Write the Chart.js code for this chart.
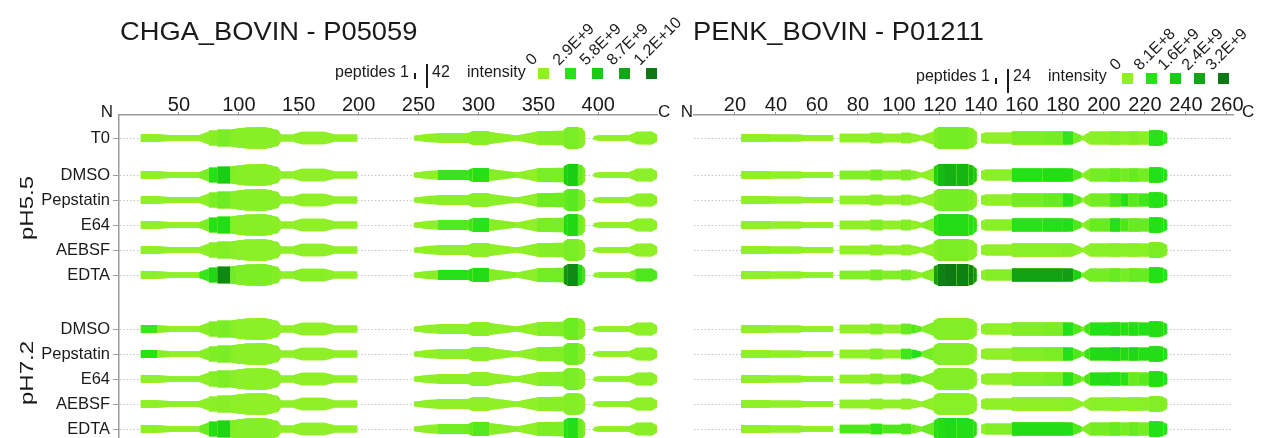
<!DOCTYPE html>
<html>
<head>
<meta charset="utf-8">
<title>CHGA / PENK peptide coverage</title>
<script src="https://cdn.jsdelivr.net/npm/chart.js@4.4.1/dist/chart.umd.min.js"></script>
<style>
  html, body { margin: 0; padding: 0; background: #fff; }
  body { width: 1266px; height: 438px; position: relative; overflow: hidden;
         font-family: "Liberation Sans", Arial, sans-serif; color: #1a1a1a; }
  canvas { position: absolute; top: 0; }
  #chga { left: 0; }
  #penk { left: 675px; }
  .title { position: absolute; top: 17.5px; font-size: 26px; line-height: 26px; white-space: nowrap; z-index: 2;
           transform-origin: 0 50%; transform: scaleX(1.05); }
  .legend-text { position: absolute; font-size: 16px; line-height: 16px; white-space: nowrap; z-index: 2; }
  .pbar { position: absolute; width: 2px; background: #1a1a1a; z-index: 2; }
  .swatch { position: absolute; width: 11px; height: 11px; z-index: 2; }
  .swatch-label { position: absolute; font-size: 16px; line-height: 16px; white-space: nowrap; z-index: 2;
                  transform-origin: 0 100%; transform: rotate(-45deg); }
  .ph { position: absolute; font-size: 24px; line-height: 24px; white-space: nowrap; z-index: 2;
        transform: translate(-50%, -50%) rotate(-90deg) scaleY(0.8); }
</style>
</head>
<body>
<canvas id="chga" width="675" height="438"></canvas>
<canvas id="penk" width="591" height="438"></canvas>
<div class="title" style="left:120px">CHGA_BOVIN - P05059</div>
<div class="title" style="left:693px">PENK_BOVIN - P01211</div>
<div class="ph" style="left:27px; top:208px">pH5.5</div>
<div class="ph" style="left:27px; top:373px">pH7.2</div>
<script>
// ---------------- rows (shared by both proteins) ----------------
const rowLabels = ['T0', 'DMSO', 'Pepstatin', 'E64', 'AEBSF', 'EDTA',
                   'DMSO', 'Pepstatin', 'E64', 'AEBSF', 'EDTA'];
const rowPositions = [0, 1.48, 2.48, 3.48, 4.48, 5.48, 7.64, 8.64, 9.64, 10.64, 11.64];

// ---------------- CHGA_BOVIN - P05059 ----------------
const chgaLength = 449;
const chgaTicks = [50, 100, 150, 200, 250, 300, 350, 400];
const chgaMaxPeptides = 42;
const chgaMaxIntensity = 11.6;                 // x 1E+9
const chgaLegendLabels = ['0', '2.9E+9', '5.8E+9', '8.7E+9', '1.2E+10'];
// peptide-coverage blocks: residue range and peptide count at block start / end
const chgaStart  = [18, 32, 42, 67, 75, 82, 93, 98, 105, 122, 128, 133, 135, 146, 152, 172, 179,
                    246, 256, 266, 292, 295, 309, 332, 349, 371, 374, 383, 387,
                    396, 400, 426, 431, 445];
const chgaEnd    = [32, 42, 67, 75, 82, 93, 98, 105, 122, 128, 133, 135, 146, 152, 172, 179, 199,
                    256, 266, 292, 295, 309, 332, 349, 371, 374, 383, 387, 389,
                    400, 426, 431, 445, 449];
const chgaPepIn  = [13, 12, 7, 8, 27, 31, 31, 36, 40, 41, 34, 27, 11, 13, 22, 21, 11,
                    5, 13, 17, 19, 25, 21, 6, 24, 32, 42, 41, 34,
                    4, 7, 8, 22, 22];
const chgaPepOut = [13, 8, 7, 23, 27, 31, 35, 39, 42, 36, 29, 13, 11, 21, 22, 13, 11,
                    12, 15, 17, 24, 25, 6, 23, 26, 40, 42, 36, 21,
                    6, 7, 19, 23, 11];
// summed intensity per block (x 1E+9), one array per condition
const chgaT0      = [0, 0, 0, 0, 0.2, 0.6, 0.3, 0.2, 0.2, 0.2, 0.2, 0, 0, 0, 0, 0, 0,
                     0, 0, 0.1, 0.2, 0.2, 0.1, 0, 0.3, 0.6, 0.6, 0.3, 0.2, 0, 0, 0, 0.1, 0.1];
const chgaDMSO55  = [0, 0, 0, 0.6, 3.2, 5.6, 0.4, 0.3, 0.2, 0.2, 0.2, 0, 0, 0, 0, 0, 0,
                     0, 0, 2.4, 2.8, 3.2, 0.3, 0, 0.6, 5.2, 5.6, 1.2, 0.6, 0, 0, 0, 0.1, 0.1];
const chgaPep55   = [0, 0, 0, 0, 0.5, 0.9, 0.3, 0.2, 0.2, 0.2, 0.2, 0, 0, 0, 0, 0, 0,
                     0, 0, 0.1, 0.2, 0.2, 0.1, 0, 0.9, 1.3, 1.5, 0.6, 0.4, 0, 0, 0, 0.1, 0.1];
const chgaE6455   = [0, 0, 0, 0.5, 3.0, 3.6, 0.3, 0.2, 0.2, 0.2, 0.2, 0, 0, 0, 0, 0, 0,
                     0, 0, 1.6, 2.2, 2.8, 0.2, 0, 0.6, 3.8, 4.2, 0.8, 0.4, 0, 0, 0, 0.1, 0.1];
const chgaAEBSF55 = [0, 0, 0, 0, 0.2, 0.4, 0.2, 0.1, 0.1, 0.1, 0.1, 0, 0, 0, 0, 0, 0,
                     0, 0, 0, 0.1, 0.1, 0, 0, 0.3, 0.6, 0.6, 0.3, 0.2, 0, 0, 0, 0, 0];
const chgaEDTA55  = [0.1, 0, 0, 2.4, 4.4, 10.5, 0.8, 0.5, 0.5, 0.5, 0.4, 0.2, 0, 0.2, 0.2, 0.1, 0,
                     0, 0.2, 3.0, 3.4, 3.8, 0.4, 0.1, 0.8, 9.8, 10.6, 4.0, 2.4, 0, 0.2, 0.6, 1.8, 1.8];
const chgaDMSO72  = [2.2, 0.2, 0, 0.2, 0.5, 0.6, 0.2, 0.1, 0.1, 0.1, 0.1, 0, 0, 0, 0, 0, 0,
                     0, 0, 0.1, 0.2, 0.2, 0.1, 0, 0.4, 0.9, 1.0, 0.4, 0.3, 0, 0, 0, 0.1, 0.1];
const chgaPep72   = [3.0, 0.2, 0, 0.2, 0.5, 0.6, 0.2, 0.1, 0.1, 0.1, 0.1, 0, 0, 0, 0, 0, 0,
                     0, 0, 0.1, 0.2, 0.2, 0.1, 0, 0.4, 0.9, 1.0, 0.4, 0.3, 0, 0, 0, 0.1, 0.1];
const chgaE6472   = [0, 0, 0, 0, 0.3, 0.5, 0.2, 0.1, 0.1, 0.1, 0.1, 0, 0, 0, 0, 0, 0,
                     0, 0, 0.1, 0.1, 0.1, 0, 0, 0.3, 0.6, 0.6, 0.3, 0.2, 0, 0, 0, 0.1, 0.1];
const chgaAEBSF72 = [0, 0, 0, 0, 0.1, 0.2, 0.1, 0, 0, 0, 0, 0, 0, 0, 0, 0, 0,
                     0, 0, 0, 0, 0, 0, 0, 0.2, 0.3, 0.3, 0.2, 0.1, 0, 0, 0, 0, 0];
const chgaEDTA72  = [0.1, 0, 0, 1.0, 3.4, 4.8, 0.4, 0.3, 0.3, 0.3, 0.2, 0, 0, 0, 0, 0, 0,
                     0, 0.1, 0.8, 1.2, 1.6, 0.2, 0, 0.5, 3.0, 3.6, 1.0, 0.6, 0, 0, 0, 0.2, 0.2];

// ---------------- PENK_BOVIN - P01211 ----------------
const penkLength = 263;
const penkTicks = [20, 40, 60, 80, 100, 120, 140, 160, 180, 200, 220, 240, 260];
const penkMaxPeptides = 24;
const penkMaxIntensity = 3.24;                 // x 1E+9
const penkLegendLabels = ['0', '8.1E+8', '1.6E+9', '2.4E+9', '3.2E+9'];
const penkStart  = [23, 37, 51, 55,
                    71, 86, 92, 101, 106, 108, 111, 117, 119, 122, 128, 134, 136.5,
                    140, 142, 155, 170, 180, 185, 189, 190.5, 193, 203, 208, 212, 217, 222, 226, 229];
const penkEnd    = [37, 51, 55, 68,
                    86, 92, 101, 106, 108, 111, 117, 119, 122, 128, 134, 136.5, 138,
                    142, 155, 170, 180, 185, 189, 190.5, 193, 203, 208, 212, 217, 222, 226, 229, 231];
const penkPepIn  = [7, 6, 6, 4,
                    8, 10, 8, 10, 8, 7, 3, 18, 24, 24, 24, 23, 18,
                    7, 11, 14, 14, 14, 12, 3, 5, 13, 14, 13, 14, 13, 16, 17, 14];
const penkPepOut = [7, 6, 4, 4,
                    8, 10, 8, 10, 8, 3, 14, 23, 24, 24, 24, 20, 12,
                    10, 11, 14, 14, 13, 4, 3, 12, 13, 14, 13, 14, 13, 17, 15, 9];
const penkT0      = [0, 0, 0, 0, 0, 0.05, 0, 0.05, 0, 0, 0, 0.15, 0.2, 0.2, 0.2, 0.15, 0.1,
                     0, 0, 0.15, 0.2, 0.7, 0.2, 0, 0, 0.05, 0.1, 0.05, 0.1, 0.05, 0.8, 0.8, 0.7];
const penkDMSO55  = [0, 0, 0, 0, 0.1, 0.2, 0.1, 0.15, 0.1, 0, 0, 1.4, 2.0, 2.2, 2.1, 1.9, 1.6,
                     0, 0.05, 0.9, 1.0, 1.0, 0.5, 0, 0.1, 0.2, 0.3, 0.2, 0.3, 0.2, 0.9, 0.9, 0.8];
const penkPep55   = [0, 0, 0, 0, 0, 0.05, 0, 0.05, 0, 0, 0, 0.15, 0.2, 0.2, 0.2, 0.15, 0.1,
                     0, 0, 0.2, 0.3, 0.8, 0.4, 0, 0.1, 0.2, 0.5, 0.9, 0.4, 0.6, 0.85, 0.85, 0.8];
const penkE6455   = [0, 0, 0, 0, 0, 0.1, 0, 0.1, 0, 0, 0.1, 0.8, 1.0, 1.0, 1.0, 0.9, 0.8,
                     0, 0.05, 0.8, 0.9, 1.0, 0.5, 0, 0.1, 0.3, 0.9, 0.5, 0.3, 0.3, 0.9, 0.9, 0.8];
const penkAEBSF55 = [0, 0, 0, 0, 0, 0, 0, 0, 0, 0, 0, 0.1, 0.15, 0.15, 0.15, 0.1, 0.1,
                     0, 0, 0.05, 0.05, 0.1, 0.05, 0, 0, 0.05, 0.05, 0.05, 0.05, 0.05, 0.15, 0.15, 0.1];
const penkEDTA55  = [0, 0, 0, 0, 0.1, 0.2, 0.1, 0.2, 0.1, 0, 0.1, 2.6, 3.1, 3.2, 3.1, 3.0, 2.7,
                     0, 0.1, 2.5, 2.5, 2.6, 1.4, 0.2, 0.2, 0.2, 0.3, 0.2, 0.3, 0.3, 0.9, 0.9, 0.8];
const penkDMSO72  = [0, 0, 0, 0, 0, 0.1, 0, 0.3, 0.5, 0.4, 0.1, 0.1, 0.1, 0.1, 0.1, 0.1, 0.05,
                     0, 0, 0.1, 0.15, 0.9, 0.5, 0.2, 0.6, 0.9, 1.0, 0.9, 1.0, 0.9, 1.0, 1.0, 0.9];
const penkPep72   = [0, 0, 0, 0, 0, 0.1, 0, 0.6, 0.9, 0.9, 0.2, 0.1, 0.1, 0.1, 0.1, 0.1, 0.05,
                     0, 0, 0.1, 0.15, 0.9, 0.5, 0.3, 0.7, 1.1, 1.2, 1.1, 1.2, 1.0, 1.0, 1.0, 0.9];
const penkE6472   = [0, 0, 0, 0, 0, 0.1, 0, 0.3, 0.4, 0.3, 0.1, 0.1, 0.1, 0.1, 0.1, 0.1, 0.05,
                     0, 0, 0.1, 0.15, 0.8, 0.4, 0.2, 0.5, 1.0, 0.9, 0.8, 0.3, 0.4, 1.0, 1.0, 0.9];
const penkAEBSF72 = [0, 0, 0, 0, 0, 0, 0, 0, 0, 0, 0, 0.05, 0.05, 0.05, 0.05, 0.05, 0.05,
                     0, 0, 0, 0, 0.05, 0, 0, 0, 0.05, 0.05, 0.05, 0.05, 0.05, 0.1, 0.1, 0.1];
const penkEDTA72  = [0, 0, 0, 0, 0.5, 0.7, 0.5, 0.5, 0.3, 0.2, 0.3, 0.9, 1.0, 1.1, 1.0, 1.0, 0.9,
                     0, 0.1, 1.0, 1.0, 1.0, 0.5, 0.1, 0.1, 0.2, 0.3, 0.2, 0.3, 0.2, 0.9, 0.9, 0.8];

const chgaRows = [chgaT0, chgaDMSO55, chgaPep55, chgaE6455, chgaAEBSF55, chgaEDTA55,
                  chgaDMSO72, chgaPep72, chgaE6472, chgaAEBSF72, chgaEDTA72];
const penkRows = [penkT0, penkDMSO55, penkPep55, penkE6455, penkAEBSF55, penkEDTA55,
                  penkDMSO72, penkPep72, penkE6472, penkAEBSF72, penkEDTA72];

// ---------------- styling ----------------
const ROW_PX = 25;                      // pixels per row unit of the y scale
const BAR_MIN_PX = 2, BAR_MAX_PX = 22;  // band thickness at 0 and at max peptides
const RAMP = [[143, 240, 40], [38, 226, 24], [24, 204, 20], [20, 165, 20], [13, 120, 20]];

function rampColor(t) {
  const v = Math.max(0, Math.min(1, t)) * (RAMP.length - 1);
  const i = Math.min(RAMP.length - 2, Math.floor(v));
  const f = v - i;
  const c = RAMP[i].map((a, k) => Math.round(a + (RAMP[i + 1][k] - a) * f));
  return `rgb(${c[0]},${c[1]},${c[2]})`;
}

Chart.defaults.font.family = '"Liberation Sans", Arial, sans-serif';
Chart.defaults.color = '#1a1a1a';

// each condition is a band: upper and lower outlines, each filled to the row centre.
// A plain base-colour band sits underneath so block joins show no gaps.
function buildDatasets(start, end, pepIn, pepOut, rows, maxPep, maxInt) {
  const half = n => (BAR_MIN_PX + (BAR_MAX_PX - BAR_MIN_PX) * n / maxPep) / 2 / ROW_PX;
  const base = rampColor(0);
  const datasets = [];
  rows.forEach((intensity, r) => {
    const pos = rowPositions[r];
    const pts = [], fills = [];
    for (let k = 0; k < start.length; k++) {
      if (k > 0 && start[k] > end[k - 1]) {
        pts.push({x: (end[k - 1] + start[k]) / 2, n: null});
        fills.push(null);
      }
      const c = rampColor(intensity[k] / maxInt);
      pts.push({x: start[k], n: pepIn[k]}); fills.push(c);
      pts.push({x: end[k], n: pepOut[k]}); fills.push(c);
    }
    const upper = pts.map(p => ({x: p.x, y: p.n === null ? null : pos - half(p.n)}));
    const lower = pts.map(p => ({x: p.x, y: p.n === null ? null : pos + half(p.n)}));
    const common = {
      label: rowLabels[r],
      borderWidth: 0, borderColor: 'rgba(0,0,0,0)',
      pointRadius: 0, pointHoverRadius: 0, tension: 0, spanGaps: false
    };
    const coloured = Object.assign({}, common, {
      order: 0, backgroundColor: fills[0],
      segment: {backgroundColor: ctx => fills[ctx.p0DataIndex]}
    });
    const under = Object.assign({}, common, {order: 1, backgroundColor: base});
    datasets.push(Object.assign({}, under, {data: upper, fill: {value: pos + 0.02}}));
    datasets.push(Object.assign({}, under, {data: lower, fill: {value: pos - 0.02}}));
    datasets.push(Object.assign({}, coloured, {data: upper, fill: {value: pos + 0.02}}));
    datasets.push(Object.assign({}, coloured, {data: lower, fill: {value: pos - 0.02}}));
  });
  return datasets;
}

// N- and C-terminus marks at the ends of the residue axis
const endLabels = {
  id: 'endLabels',
  afterDraw(chart, args, opts) {
    const x = chart.scales.x, ctx = chart.ctx;
    ctx.save();
    ctx.fillStyle = '#1a1a1a';
    ctx.font = '17px "Liberation Sans", Arial, sans-serif';
    ctx.textBaseline = 'alphabetic';
    ctx.textAlign = 'right';
    ctx.fillText('N', x.left - opts.nGap, opts.baseline);
    ctx.textAlign = 'left';
    ctx.fillText('C', x.right + opts.cGap, opts.baseline);
    ctx.restore();
  }
};

function makeChart(id, cfg) {
  return new Chart(document.getElementById(id), {
    type: 'line',
    data: {datasets: cfg.datasets},
    options: {
      responsive: false, animation: false, devicePixelRatio: 1, events: [],
      layout: {padding: {left: 0, top: 0, right: cfg.padRight, bottom: 0}},
      plugins: {
        legend: {display: false}, tooltip: {enabled: false}, title: {display: false},
        endLabels: cfg.ends
      },
      scales: {
        x: {
          type: 'linear', position: 'top', min: 0, max: cfg.length,
          afterBuildTicks: s => { s.ticks = cfg.ticks.map(v => ({value: v})); },
          afterFit: s => { s.height = 115; s.paddingLeft = 0; s.paddingRight = 0; },
          ticks: {autoSkip: false, maxRotation: 0, padding: -3, color: '#1a1a1a',
                  font: {size: 20, lineHeight: 1}},
          grid: {drawOnChartArea: false, drawTicks: true, tickLength: 3, tickColor: '#8c8c8c', tickWidth: 1},
          border: {display: true, color: '#9a9a9a', width: 1.5}
        },
        y: {
          type: 'linear', reverse: true, min: -0.92, max: 12,
          afterBuildTicks: s => { s.ticks = rowPositions.map(v => ({value: v})); },
          afterFit: s => { s.width = cfg.yWidth; s.paddingTop = 0; s.paddingBottom = 0; },
          ticks: {display: cfg.showRows, autoSkip: false, padding: 3, color: '#1a1a1a',
                  font: {size: 16.5, lineHeight: 1}, callback: (v, i) => rowLabels[i]},
          grid: {drawOnChartArea: true, color: '#c4c4c4', lineWidth: 1,
                 drawTicks: cfg.showRows, tickLength: 6, tickColor: '#9a9a9a'},
          border: {display: cfg.showRows, color: '#9a9a9a', width: 1.5, dash: [1.5, 2]}
        }
      }
    },
    plugins: [endLabels]
  });
}

makeChart('chga', {
  datasets: buildDatasets(chgaStart, chgaEnd, chgaPepIn, chgaPepOut, chgaRows, chgaMaxPeptides, chgaMaxIntensity),
  length: chgaLength, ticks: chgaTicks, yWidth: 119, padRight: 18, showRows: true,
  ends: {nGap: 6, cGap: 1, baseline: 117}
});
makeChart('penk', {
  datasets: buildDatasets(penkStart, penkEnd, penkPepIn, penkPepOut, penkRows, penkMaxPeptides, penkMaxIntensity),
  length: penkLength, ticks: penkTicks, yWidth: 19, padRight: 33, showRows: false,
  ends: {nGap: 1, cGap: 9, baseline: 117}
});

// ---------------- legends: peptide count bars and intensity swatches ----------------
function addEl(cls, text, style) {
  const d = document.createElement('div');
  d.className = cls;
  if (text) d.textContent = text;
  Object.assign(d.style, style);
  document.body.appendChild(d);
  return d;
}
function buildLegend(x, y, maxPep, labels, swatchX) {
  addEl('legend-text', 'peptides 1', {left: x + 'px', top: y + 'px'});
  addEl('pbar', '', {left: (x + 79) + 'px', top: (y + 9.5) + 'px', height: '6px'});
  addEl('pbar', '', {left: (x + 91) + 'px', top: (y + 0.5) + 'px', height: '24px'});
  addEl('legend-text', String(maxPep), {left: (x + 97) + 'px', top: y + 'px'});
  addEl('legend-text', 'intensity', {left: (x + 132) + 'px', top: y + 'px'});
  labels.forEach((lab, i) => {
    const sx = swatchX[i], sy = y + 4.5;
    addEl('swatch', '', {left: sx + 'px', top: sy + 'px', background: rampColor(i / (labels.length - 1))});
    addEl('swatch-label', lab, {left: (sx - 4) + 'px', top: (sy - 16) + 'px'});
  });
}
buildLegend(335, 63.5, chgaMaxPeptides, chgaLegendLabels, [538, 565, 592, 619, 646]);
buildLegend(916, 68, penkMaxPeptides, penkLegendLabels, [1122, 1146, 1170, 1194, 1218]);
</script>
</body>
</html>
